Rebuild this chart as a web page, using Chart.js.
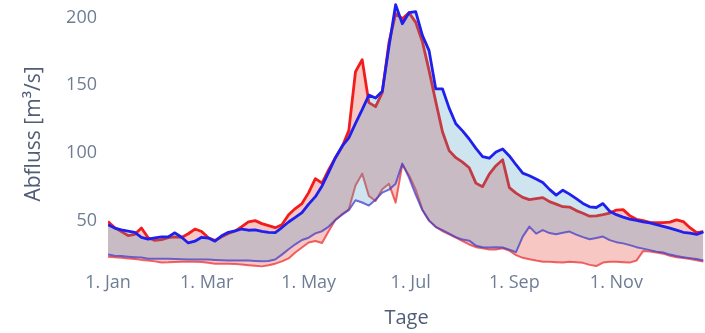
<!DOCTYPE html>
<html>
<head>
<meta charset="utf-8">
<script src="https://cdn.jsdelivr.net/npm/chart.js@4/dist/chart.umd.min.js"></script>
<style>
  html, body { margin: 0; padding: 0; background: #fff; }
  #wrap { width: 705px; height: 333px; overflow: hidden; }
</style>
</head>
<body>
<div id="wrap"><canvas id="chart" width="705" height="333"></canvas></div>
<script>
// Tag im Jahr (0 = 1. Jan), alle 4 Tage
const days = [
  0, 4, 8, 12, 16, 20, 24, 28, 32, 36, 40, 44, 48, 52, 56, 60, 64, 68, 72, 76,
  80, 84, 88, 92, 96, 100, 104, 108, 112, 116, 120, 124, 128, 132, 136, 140, 144, 148, 152, 156,
  160, 164, 168, 172, 176, 180, 184, 188, 192, 196, 200, 204, 208, 212, 216, 220, 224, 228, 232, 236,
  240, 244, 248, 252, 256, 260, 264, 268, 272, 276, 280, 284, 288, 292, 296, 300, 304, 308, 312, 316,
  320, 324, 328, 332, 336, 340, 344, 348, 352, 356
]

const monthTicks = [0, 59, 120, 181, 243, 304]
const monthLabels = ['1. Jan', '1. Mar', '1. May', '1. Jul', '1. Sep', '1. Nov']
const yTicks = [50, 100, 150, 200]

// Abfluss in m³/s
const blueUpper = [
  47.0, 44.5, 43.1, 42.3, 41.4, 37.7, 36.4, 37.3, 38.0, 38.0,
  41.0, 37.7, 33.5, 34.8, 37.7, 37.1, 34.8, 38.8, 41.4, 42.4,
  43.8, 42.9, 43.2, 42.1, 41.3, 41.1, 44.9, 49.0, 52.4, 55.9,
  62.2, 67.7, 75.6, 85.8, 96.5, 105.0, 111.2, 121.9, 132.0, 142.7,
  140.6, 145.5, 178.5, 209.5, 195.5, 203.6, 204.4, 186.9, 175.6, 147.3,
  147.4, 133.1, 121.6, 116.3, 110.3, 103.4, 97.3, 96.1, 100.7, 102.9,
  97.8, 91.3, 85.1, 83.1, 80.7, 78.1, 73.1, 68.8, 72.5, 69.6,
  66.2, 62.7, 60.2, 59.7, 62.6, 56.9, 54.4, 52.6, 51.1, 50.1,
  49.1, 48.3, 47.0, 45.8, 44.5, 43.0, 41.4, 40.8, 39.8, 41.7
]
const blueLower = [
  24.9, 24.1, 23.8, 23.4, 23.0, 22.7, 21.9, 21.9, 21.9, 21.9,
  21.7, 21.5, 21.2, 21.2, 21.2, 21.2, 21.0, 20.8, 20.5, 20.5,
  20.5, 20.5, 20.2, 19.9, 20.2, 21.3, 24.9, 28.9, 32.5, 35.7,
  37.4, 40.6, 42.2, 45.6, 50.4, 54.4, 57.8, 65.1, 63.4, 61.1,
  65.5, 70.7, 72.9, 77.3, 92.1, 81.8, 69.2, 57.8, 50.0, 45.2,
  43.0, 40.4, 37.8, 36.0, 35.2, 31.5, 30.3, 30.1, 30.4, 30.1,
  28.6, 26.7, 38.2, 45.6, 40.4, 43.0, 40.8, 40.0, 41.1, 41.9,
  39.7, 37.8, 36.3, 37.2, 38.2, 35.6, 34.1, 33.2, 31.9, 30.4,
  29.3, 28.2, 27.1, 26.4, 24.9, 23.8, 23.0, 22.3, 21.6, 20.5
]
const redUpper = [
  49.3, 44.8, 41.9, 39.0, 39.9, 44.5, 37.3, 35.4, 35.9, 37.5,
  38.0, 37.6, 40.3, 43.8, 42.0, 37.4, 35.3, 38.1, 40.5, 42.3,
  45.6, 49.1, 50.0, 47.8, 46.3, 44.8, 47.0, 54.4, 58.9, 62.6,
  70.7, 81.0, 77.7, 87.7, 96.5, 104.6, 116.5, 160.0, 168.9, 137.2,
  134.2, 144.5, 181.5, 202.9, 199.2, 203.6, 196.5, 182.2, 160.8, 137.9,
  115.7, 101.7, 96.5, 93.2, 89.1, 77.7, 75.1, 84.3, 90.6, 95.0,
  74.4, 70.3, 67.2, 65.5, 66.2, 67.0, 64.0, 62.2, 60.3, 60.0,
  57.4, 55.5, 53.3, 53.5, 54.4, 55.6, 57.8, 58.1, 53.7, 51.0,
  50.0, 48.7, 48.5, 48.5, 48.9, 50.6, 49.3, 44.8, 41.1, 41.9
]
const redLower = [
  23.4, 22.9, 22.5, 22.1, 21.6, 21.0, 20.6, 19.9, 19.1, 19.2,
  19.5, 19.7, 19.7, 19.7, 19.5, 18.8, 18.2, 18.2, 18.2, 18.0,
  17.6, 17.1, 16.6, 16.2, 17.0, 18.2, 19.9, 22.1, 26.4, 30.1,
  33.8, 34.9, 33.5, 42.4, 50.7, 54.8, 58.4, 75.9, 84.7, 68.2,
  64.5, 73.2, 77.2, 63.3, 91.4, 83.5, 72.9, 58.1, 50.0, 45.6,
  42.3, 39.8, 37.4, 34.9, 32.4, 30.4, 29.6, 28.6, 28.6, 29.6,
  27.8, 24.5, 22.5, 21.5, 20.5, 19.7, 19.7, 19.3, 19.0, 19.6,
  19.3, 18.8, 17.3, 16.4, 19.0, 19.6, 19.6, 19.3, 19.0, 20.5,
  27.5, 27.1, 26.4, 25.6, 24.1, 23.0, 22.3, 21.6, 20.8, 19.7
]

const toPoints = (values) => days.map((d, i) => ({ x: d, y: values[i] }))

const tickColor = '#6e7d94'
const titleColor = '#4f5d77'
const fontFamily = '"Open Sans", "DejaVu Sans", sans-serif'

// Datasets are drawn last-to-first, so the blue band sits on top of the red one
new Chart(document.getElementById('chart'), {
  type: 'line',
  data: {
    datasets: [
      {
        label: 'Min blau',
        data: toPoints(blueLower),
        borderColor: 'rgba(70, 60, 200, 0.75)',
        borderWidth: 2,
        fill: false
      },
      {
        label: 'Max blau',
        data: toPoints(blueUpper),
        borderColor: '#2020ee',
        borderWidth: 2.8,
        backgroundColor: 'rgba(60, 150, 190, 0.25)',
        fill: '-1'
      },
      {
        label: 'Min rot',
        data: toPoints(redLower),
        borderColor: 'rgba(235, 50, 50, 0.75)',
        borderWidth: 2,
        fill: false
      },
      {
        label: 'Max rot',
        data: toPoints(redUpper),
        borderColor: '#f21c1c',
        borderWidth: 2.8,
        backgroundColor: 'rgba(230, 80, 70, 0.32)',
        fill: '-1'
      }
    ]
  },
  options: {
    responsive: false,
    animation: false,
    devicePixelRatio: 1,
    layout: { padding: 0 },
    elements: {
      point: { radius: 0 },
      line: { tension: 0, borderJoinStyle: 'round' }
    },
    plugins: {
      legend: { display: false },
      tooltip: { enabled: false }
    },
    scales: {
      x: {
        type: 'linear',
        min: 0,
        max: 357,
        grid: { display: false },
        border: { display: false },
        afterBuildTicks: (scale) => {
          scale.ticks = monthTicks.map(v => ({ value: v }))
        },
        afterFit: (scale) => {
          scale.height = 65
          scale.paddingLeft = 0
          scale.paddingRight = 0
        },
        ticks: {
          autoSkip: false,
          maxRotation: 0,
          padding: -4,
          color: tickColor,
          font: { family: fontFamily, size: 18 },
          callback: (value) => monthLabels[monthTicks.indexOf(value)]
        },
        title: {
          display: true,
          text: 'Tage',
          color: titleColor,
          font: { family: fontFamily, size: 20 },
          padding: { top: 0, bottom: 3 }
        }
      },
      y: {
        min: 15,
        max: 213,
        grid: { display: false },
        border: { display: false },
        afterBuildTicks: (scale) => {
          scale.ticks = yTicks.map(v => ({ value: v }))
        },
        afterFit: (scale) => {
          scale.width = 108
          scale.paddingTop = 0
          scale.paddingBottom = 0
        },
        ticks: {
          padding: 3,
          color: tickColor,
          font: { family: fontFamily, size: 18 }
        },
        title: {
          display: true,
          text: 'Abfluss [m³/s]',
          color: titleColor,
          font: { family: fontFamily, size: 21 },
          padding: { top: 21, bottom: 0 }
        }
      }
    }
  }
})
</script>
</body>
</html>
